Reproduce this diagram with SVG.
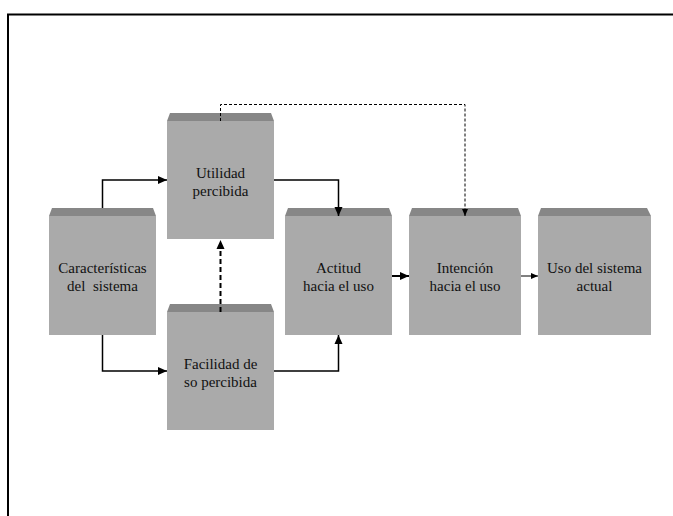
<svg xmlns="http://www.w3.org/2000/svg" width="673" height="516" viewBox="0 0 673 516">
<style>
.body{fill:#aaaaaa}
.bevel{fill:#878787}
.lbl{font-family:"Liberation Serif","Times New Roman",serif;font-size:15px;fill:#111;text-anchor:middle}
.c{fill:none;stroke:#000}
</style>
<defs>
<marker id="ah" markerUnits="userSpaceOnUse" markerWidth="10" markerHeight="10" refX="9" refY="5" orient="auto">
<path d="M0,1 L9,5 L0,9 Z" fill="#000"/>
</marker>
<marker id="ahs" markerUnits="userSpaceOnUse" markerWidth="8" markerHeight="8" refX="7" refY="4" orient="auto">
<path d="M0,1 L7,4 L0,7 Z" fill="#000"/>
</marker>
</defs>
<rect width="673" height="516" fill="#fff"/>
<path d="M8,516 V14.5 H673" fill="none" stroke="#000" stroke-width="2"/>

<g id="caracteristicas">
<path class="bevel" d="M52,208 H153 L156,216 H49 Z"/>
<rect class="body" x="49" y="216" width="107" height="119"/>
<text class="lbl" x="102.5" y="273">Características</text>
<text class="lbl" x="102.5" y="291" xml:space="preserve">del  sistema</text>
</g>
<g id="utilidad">
<path class="bevel" d="M170,113 H271 L274,121 H167 Z"/>
<rect class="body" x="167" y="121" width="107" height="118"/>
<text class="lbl" x="220.5" y="178">Utilidad</text>
<text class="lbl" x="220.5" y="196">percibida</text>
</g>
<g id="facilidad">
<path class="bevel" d="M170,304 H271 L274,312 H167 Z"/>
<rect class="body" x="167" y="312" width="107" height="118"/>
<text class="lbl" x="220.5" y="369">Facilidad de</text>
<text class="lbl" x="220.5" y="387">so percibida</text>
</g>
<g id="actitud">
<path class="bevel" d="M288,208 H389 L392,216 H285 Z"/>
<rect class="body" x="285" y="216" width="107" height="119"/>
<text class="lbl" x="338.5" y="273">Actitud</text>
<text class="lbl" x="338.5" y="291">hacia el uso</text>
</g>
<g id="intencion">
<path class="bevel" d="M412,208 H518 L521,216 H409 Z"/>
<rect class="body" x="409" y="216" width="112" height="119"/>
<text class="lbl" x="465" y="273">Intención</text>
<text class="lbl" x="465" y="291">hacia el uso</text>
</g>
<g id="uso">
<path class="bevel" d="M541,208 H647 L651,216 H538 Z"/>
<rect class="body" x="538" y="216" width="113" height="119"/>
<text class="lbl" x="594.5" y="273">Uso del sistema</text>
<text class="lbl" x="594.5" y="291">actual</text>
</g>

<g id="connectors">
<path class="c" stroke-width="1.5" d="M102.5,208 V180 H167" marker-end="url(#ah)"/>
<path class="c" stroke-width="1.5" d="M102.5,335 V371 H167" marker-end="url(#ah)"/>
<path class="c" stroke-width="1.5" d="M274,180 H338.5 V216" marker-end="url(#ah)"/>
<path class="c" stroke-width="1.5" d="M274,371 H338.5 V335" marker-end="url(#ah)"/>
<path class="c" stroke-width="2" stroke-dasharray="5,3" d="M220.5,312 V240" marker-end="url(#ah)"/>
<path class="c" stroke-width="1" stroke="#444" stroke-dasharray="3,2" d="M220.5,121 V104.5 H465 V216" marker-end="url(#ahs)"/>
<path class="c" stroke-width="2" d="M392,276 H409" marker-end="url(#ah)"/>
<path class="c" stroke-width="1" d="M521,276 H538" marker-end="url(#ahs)"/>
</g>
</svg>
